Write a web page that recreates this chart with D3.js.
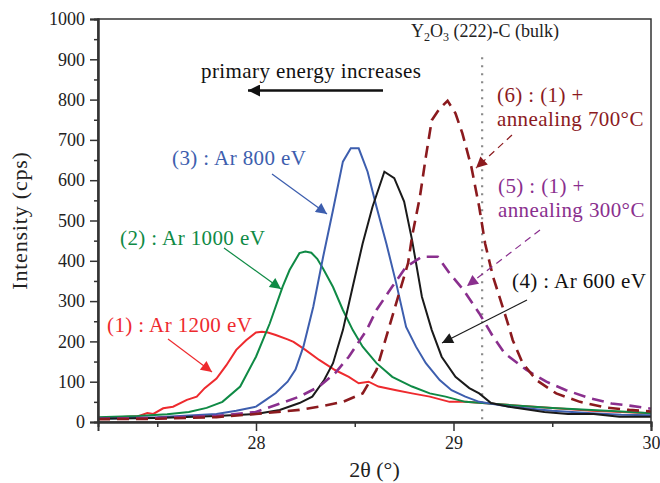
<!DOCTYPE html>
<html>
<head>
<meta charset="utf-8">
<script src="https://cdn.jsdelivr.net/npm/d3@7"></script>
<style>
  body { margin: 0; background: #fff; }
  text { font-family: "Liberation Serif", "Times New Roman", serif; }
</style>
</head>
<body>
<div id="chart"></div>
<script>
// chart size and margins
var svgWidth = 660;
var svgHeight = 483;

var margin = {
    top: 19,
    right: 9,
    left: 98,
    bottom: 61
};

var width = svgWidth - margin.left - margin.right;
var height = svgHeight - margin.top - margin.bottom;

// data (2theta in degrees, intensity in cps)
var x1 = [27.2, 27.3, 27.4, 27.45, 27.48, 27.53, 27.58, 27.65, 27.7, 27.74, 27.8, 27.85, 27.9, 27.95, 28.0, 28.03, 28.06, 28.1, 28.16, 28.19, 28.25, 28.32, 28.4, 28.47, 28.52, 28.57, 28.62, 28.71, 28.79, 28.88, 28.98, 29.06, 29.2, 29.35, 29.5, 29.7, 29.85, 30.0];
var y1 = [10, 12, 14, 22, 20, 34, 38, 55, 63, 84, 108, 141, 179, 203, 222, 224, 222, 216, 205, 199, 179, 154, 129, 112, 96, 100, 88, 79, 71, 63, 50, 50, 45, 40, 35, 28, 25, 22];

var x2 = [27.2, 27.4, 27.55, 27.66, 27.75, 27.83, 27.92, 28.0, 28.07, 28.135, 28.17, 28.22, 28.25, 28.28, 28.31, 28.34, 28.39, 28.44, 28.49, 28.54, 28.61, 28.69, 28.79, 28.88, 28.96, 29.06, 29.2, 29.35, 29.5, 29.7, 29.85, 30.0];
var y2 = [12, 15, 19, 25, 35, 50, 88, 162, 245, 336, 377, 419, 423, 420, 405, 380, 335, 278, 228, 187, 146, 112, 88, 71, 63, 50, 45, 40, 35, 30, 26, 22];

var x3 = [27.2, 27.5, 27.8, 27.9, 28.0, 28.05, 28.1, 28.16, 28.2, 28.24, 28.29, 28.34, 28.39, 28.44, 28.48, 28.52, 28.565, 28.61, 28.66, 28.71, 28.76, 28.81, 28.86, 28.93, 28.99, 29.06, 29.13, 29.3, 29.5, 29.7, 29.85, 30.0];
var y3 = [8, 12, 20, 28, 38, 55, 72, 100, 130, 187, 286, 410, 526, 646, 679, 679, 621, 534, 443, 344, 236, 187, 146, 104, 79, 63, 50, 37, 28, 22, 18, 17];

var x4 = [27.2, 27.5, 27.8, 28.0, 28.12, 28.22, 28.285, 28.345, 28.39, 28.44, 28.49, 28.54, 28.59, 28.65, 28.7, 28.75, 28.79, 28.84, 28.89, 28.94, 29.01, 29.08, 29.13, 29.19, 29.29, 29.46, 29.58, 29.71, 29.84, 30.0];
var y4 = [8, 10, 15, 20, 30, 47, 63, 104, 146, 228, 336, 443, 534, 621, 605, 547, 452, 311, 228, 162, 112, 84, 71, 47, 37, 25, 20, 20, 13, 13];

var x5 = [27.2, 27.5, 27.8, 28.0, 28.13, 28.22, 28.32, 28.4, 28.47, 28.56, 28.61, 28.69, 28.76, 28.84, 28.92, 28.98, 29.05, 29.13, 29.2, 29.26, 29.37, 29.47, 29.57, 29.69, 29.8, 29.9, 30.0];
var y5 = [8, 10, 15, 25, 47, 63, 88, 121, 162, 228, 278, 336, 385, 410, 410, 369, 328, 270, 212, 170, 129, 100, 79, 59, 46, 40, 33];

var x6 = [27.2, 27.5, 27.8, 28.0, 28.22, 28.32, 28.44, 28.54, 28.61, 28.66, 28.71, 28.77, 28.79, 28.83, 28.86, 28.89, 28.93, 28.97, 29.01, 29.045, 29.09, 29.13, 29.16, 29.2, 29.27, 29.3, 29.35, 29.42, 29.52, 29.64, 29.77, 29.89, 30.0];
var y6 = [7, 8, 12, 20, 30, 38, 50, 71, 129, 212, 295, 394, 460, 559, 658, 749, 778, 797, 766, 716, 634, 534, 443, 361, 253, 203, 146, 104, 71, 50, 36, 30, 26];

var xTicks = [28, 29, 30];
var xMinor = [27.5, 28.5, 29.5];
var yTicks = [0, 100, 200, 300, 400, 500, 600, 700, 800, 900, 1000];
var yMinor = [50, 150, 250, 350, 450, 550, 650, 750, 850, 950];
var bulkPos = 29.145;

var series = [
    {x: x1, y: y1, color: "#ee2a2e", dash: null},
    {x: x2, y: y2, color: "#0f8a45", dash: null},
    {x: x3, y: y3, color: "#3d5eae", dash: null},
    {x: x4, y: y4, color: "#1a1a1a", dash: null},
    {x: x5, y: y5, color: "#8a2f8e", dash: "12,7"},
    {x: x6, y: y6, color: "#8b1a1e", dash: "12,7"}
];

// SVG wrapper
var svg = d3.select("#chart").append("svg").attr("width", svgWidth).attr("height", svgHeight);
var chartGroup = svg.append("g")
    .attr("transform", `translate(${margin.left}, ${margin.top})`);

var xScale = d3.scaleLinear().domain([27.2, 30]).range([0, width]);
var yScale = d3.scaleLinear().domain([0, 1000]).range([height, 0]);

// arrow markers
var defs = svg.append("defs");
var markerColors = {red: "#ee2a2e", green: "#0f8a45", blue: "#3d5eae", black: "#1a1a1a", purple: "#8a2f8e", dred: "#8b1a1e"};
Object.keys(markerColors).forEach(function(k) {
    defs.append("marker")
        .attr("id", "arr-" + k)
        .attr("viewBox", "0 0 10 10")
        .attr("refX", 10).attr("refY", 5)
        .attr("markerUnits", "userSpaceOnUse")
        .attr("markerWidth", 14).attr("markerHeight", 11)
        .attr("orient", "auto")
        .append("path").attr("d", "M0,0 L10,5 L0,10 Z").attr("fill", markerColors[k]);
});
defs.append("marker")
    .attr("id", "arr-big")
    .attr("viewBox", "0 0 10 10")
    .attr("refX", 10).attr("refY", 5)
    .attr("markerUnits", "userSpaceOnUse")
    .attr("markerWidth", 16).attr("markerHeight", 12)
    .attr("orient", "auto")
    .append("path").attr("d", "M0,0 L10,5 L0,10 Z").attr("fill", "#111");

// bulk reference line
chartGroup.append("line")
    .attr("x1", xScale(bulkPos)).attr("x2", xScale(bulkPos))
    .attr("y1", yScale(905)).attr("y2", height)
    .attr("stroke", "#8a8a8a").attr("stroke-width", 2.2)
    .attr("stroke-dasharray", "2,6");

// curves
var line = d3.line()
    .x(d => xScale(d[0]))
    .y(d => yScale(d[1]));

series.forEach(function(s) {
    var pts = s.x.map((v, i) => [v, s.y[i]]);
    chartGroup.append("path")
        .datum(pts)
        .attr("fill", "none")
        .attr("stroke", s.color)
        .attr("stroke-width", s.dash ? 2.6 : 2)
        .attr("stroke-dasharray", s.dash)
        .attr("d", line);
});

// frame
chartGroup.append("rect")
    .attr("x", 0).attr("y", 0).attr("width", width).attr("height", height)
    .attr("fill", "none").attr("stroke", "#333").attr("stroke-width", 1.5);

// axes
var bottomAxis = d3.axisBottom(xScale).tickValues(xTicks).tickSize(9).tickPadding(5).tickFormat(d3.format("d"));
var bottomMinor = d3.axisBottom(xScale).tickValues(xMinor).tickSize(5).tickFormat("");
var leftAxis = d3.axisLeft(yScale).tickValues(yTicks).tickSize(8).tickPadding(5).tickFormat(d3.format("d"));
var leftMinor = d3.axisLeft(yScale).tickValues(yMinor).tickSize(4).tickFormat("");

var xAxisG = chartGroup.append("g").attr("transform", `translate(0, ${height})`).call(bottomAxis);
chartGroup.append("g").attr("transform", `translate(0, ${height})`).call(bottomMinor);
var yAxisG = chartGroup.append("g").call(leftAxis);
chartGroup.append("g").call(leftMinor);

chartGroup.selectAll(".domain").attr("stroke", "#333").attr("stroke-width", 2);
chartGroup.selectAll(".tick line").attr("stroke", "#333").attr("stroke-width", 1.5);
chartGroup.selectAll(".tick text")
    .attr("font-family", "Liberation Serif, serif")
    .attr("font-size", 18).attr("fill", "#222");

// axis titles
svg.append("text")
    .attr("transform", `translate(27, ${margin.top + height / 2}) rotate(-90)`)
    .attr("text-anchor", "middle")
    .attr("font-size", 22).attr("letter-spacing", 0.8).attr("fill", "#222")
    .text("Intensity (cps)");

svg.append("text")
    .attr("x", margin.left + width / 2).attr("y", 477)
    .attr("text-anchor", "middle")
    .attr("font-size", 22).attr("fill", "#222")
    .text("2\u03b8 (\u00b0)");

// annotations
var ann = svg.append("g");

ann.append("text").attr("x", 201).attr("y", 78)
    .attr("font-size", 21).attr("letter-spacing", 0.4).attr("fill", "#111")
    .text("primary energy increases");
ann.append("line")
    .attr("x1", 383).attr("y1", 90.5).attr("x2", 248).attr("y2", 90.5)
    .attr("stroke", "#111").attr("stroke-width", 2.5)
    .attr("marker-end", "url(#arr-big)");

var bulk = ann.append("text").attr("x", 411).attr("y", 37)
    .attr("font-size", 18).attr("fill", "#222");
bulk.append("tspan").text("Y");
bulk.append("tspan").attr("dy", 4).attr("font-size", 12).text("2");
bulk.append("tspan").attr("dy", -4).text("O");
bulk.append("tspan").attr("dy", 4).attr("font-size", 12).text("3");
bulk.append("tspan").attr("dy", -4).text(" (222)-C (bulk)");

var labels = [
    {lines: ["(1) : Ar 1200 eV"], x: 107, y: 332, color: "#ee2a2e"},
    {lines: ["(2) : Ar 1000 eV"], x: 120, y: 245, color: "#0f8a45"},
    {lines: ["(3) : Ar 800 eV"], x: 172, y: 165, color: "#3d5eae"},
    {lines: ["(4) : Ar 600 eV"], x: 512, y: 288, color: "#111"},
    {lines: ["(5) : (1) +", "annealing 300\u00b0C"], x: 498, y: 193, color: "#8a2f8e"},
    {lines: ["(6) : (1) +", "annealing 700\u00b0C"], x: 497, y: 102, color: "#8b1a1e"}
];

labels.forEach(function(l) {
    l.lines.forEach(function(t, i) {
        ann.append("text")
            .attr("x", l.x).attr("y", l.y + i * 24)
            .attr("font-size", 21).attr("letter-spacing", 0.4).attr("fill", l.color)
            .text(t);
    });
});

var arrows = [
    {x1: 168, y1: 339, x2: 212, y2: 372, color: "#ee2a2e", m: "red", dash: null},
    {x1: 224, y1: 248, x2: 281, y2: 289, color: "#0f8a45", m: "green", dash: null},
    {x1: 272, y1: 174, x2: 327, y2: 214, color: "#3d5eae", m: "blue", dash: null},
    {x1: 527, y1: 300, x2: 442, y2: 343, color: "#1a1a1a", m: "black", dash: null},
    {x1: 540, y1: 230, x2: 467, y2: 286, color: "#8a2f8e", m: "purple", dash: "7,5"},
    {x1: 512, y1: 135, x2: 476, y2: 168, color: "#8b1a1e", m: "dred", dash: "7,5"}
];

arrows.forEach(function(a) {
    ann.append("line")
        .attr("x1", a.x1).attr("y1", a.y1).attr("x2", a.x2).attr("y2", a.y2)
        .attr("stroke", a.color).attr("stroke-width", 1.2)
        .attr("stroke-dasharray", a.dash)
        .attr("marker-end", `url(#arr-${a.m})`);
});
</script>
</body>
</html>
